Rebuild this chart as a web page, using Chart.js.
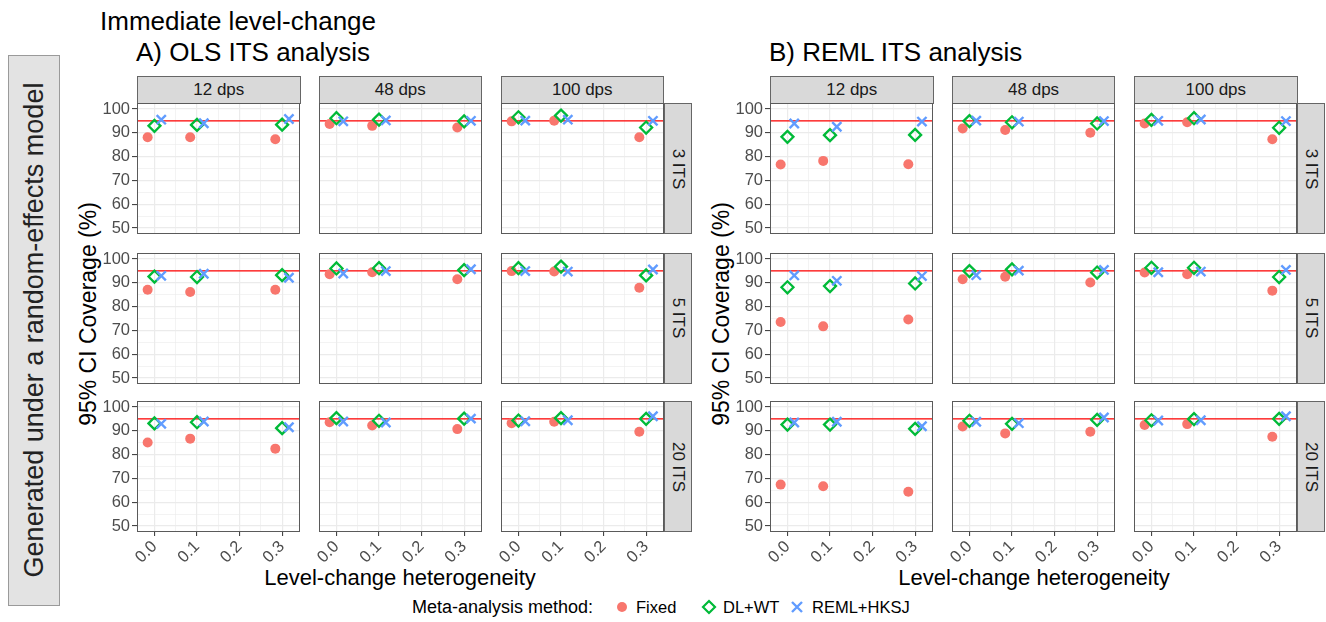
<!DOCTYPE html>
<html>
<head>
<meta charset="utf-8">
<script src="https://cdn.jsdelivr.net/npm/chart.js@4.4.1/dist/chart.umd.min.js"></script>
<style>
  body { margin: 0; background: #fff; font-family: "Liberation Sans", Arial, sans-serif; }
  #page { position: relative; width: 1326px; height: 622px; overflow: hidden; }
  .abs { position: absolute; }
  .txt { position: absolute; white-space: nowrap; color: #000; }
  .strip-top { position: absolute; background: #D9D9D9; border: 1px solid #666; box-sizing: border-box;
    font-size: 17px; color: #1A1A1A; display: flex; align-items: center; justify-content: center; }
  .strip-right { position: absolute; background: #D9D9D9; border: 1px solid #666; box-sizing: border-box; }
  .strip-right span { position: absolute; left: 50%; top: 50%; transform: translate(-50%, -50%) rotate(90deg);
    font-size: 17px; color: #1A1A1A; white-space: nowrap; }
  .rot { transform: translate(-50%, -50%) rotate(-90deg); }
  .leg { position: absolute; top: 607px; transform: translateY(-50%); white-space: nowrap; }
</style>
</head>
<body>
<div id="page">
  <div class="abs" style="left:8px; top:55px; width:52px; height:551px; background:#E3E3E3; border:1px solid #9a9a9a; box-sizing:border-box;"></div>
  <div class="txt rot" style="left:34px; top:330px; font-size:27px; color:#222;">Generated under a random-effects model</div>

  <div class="txt" style="left:100px; top:6px; font-size:26px;">Immediate level-change</div>
  <div class="txt" style="left:136px; top:37px; font-size:26px;">A) OLS ITS analysis</div>
  <div class="txt" style="left:769px; top:37px; font-size:26px;">B) REML ITS analysis</div>

  <div class="txt rot" style="left:88px; top:314px; font-size:23px;">95% CI Coverage (%)</div>
  <div class="txt rot" style="left:721px; top:314px; font-size:23px;">95% CI Coverage (%)</div>

  <div class="txt" style="left:400px; top:578px; font-size:22px; transform:translate(-50%,-50%);">Level-change heterogeneity</div>
  <div class="txt" style="left:1034px; top:578px; font-size:22px; transform:translate(-50%,-50%);">Level-change heterogeneity</div>

  <div class="leg" style="left:412px; font-size:18px;">Meta-analysis method:</div>
  <svg class="leg" style="left:613px;" width="18" height="18"><circle cx="9" cy="9" r="5" fill="#F8766D"/></svg>
  <div class="leg" style="left:636px; font-size:16.5px;">Fixed</div>
  <svg class="leg" style="left:700px;" width="18" height="18"><path d="M9 3 L15 9 L9 15 L3 9 Z" fill="none" stroke="#00BA38" stroke-width="2.2"/></svg>
  <div class="leg" style="left:723px; font-size:16.5px;">DL+WT</div>
  <svg class="leg" style="left:788px;" width="18" height="18"><path d="M4 4 L14 14 M14 4 L4 14" stroke="#619CFF" stroke-width="2.4"/></svg>
  <div class="leg" style="left:812px; font-size:16.5px;">REML+HKSJ</div>
</div>

<script>
// facets
const analyses = ['OLS', 'REML'];
const dpsLabels = ['12 dps', '48 dps', '100 dps'];
const itsLabels = ['3 ITS', '5 ITS', '20 ITS'];
const methods = ['Fixed', 'DL+WT', 'REML+HKSJ'];

// x categories and dodge offsets per method
const heterogeneity = [0, 0.1, 0.3];
const dodge = [-0.016, 0, 0.016];
const target = 95;

// axis ticks
const xTicks = [0, 0.05, 0.1, 0.15, 0.2, 0.25, 0.3];
const yTicks = [50, 55, 60, 65, 70, 75, 80, 85, 90, 95, 100];
const X_MIN = -0.041, X_MAX = 0.342;
const Y_MIN = 47.5, Y_MAX = 102.5;

// coverage values: [ITS row][dps column][heterogeneity]
const olsFixed = [
    [[88.1, 88.1, 87.3], [93.7, 92.9, 92.2], [94.8, 95.1, 88.1]],
    [[87.1, 86.1, 87.1], [93.6, 94.4, 91.5], [94.9, 94.7, 87.9]],
    [[85.1, 86.7, 82.5], [93.6, 92.2, 90.7], [93.2, 93.8, 89.6]]
];
const olsDL = [
    [[92.9, 93.3, 93.4], [96.1, 95.5, 94.8], [96.5, 97.2, 92.2]],
    [[92.6, 92.4, 93.2], [96.0, 96.1, 95.3], [96.1, 96.8, 93.1]],
    [[93.1, 93.6, 91.1], [95.3, 94.2, 95.1], [94.3, 95.3, 95.0]]
];
const olsHKSJ = [
    [[95.5, 94.0, 95.8], [94.8, 95.2, 95.0], [95.1, 95.5, 95.0]],
    [[92.9, 93.8, 92.1], [93.9, 94.9, 95.7], [94.9, 94.7, 95.6]],
    [[92.9, 93.9, 91.5], [93.9, 93.5, 95.1], [94.0, 94.4, 96.1]]
];
const remlFixed = [
    [[76.7, 78.2, 76.8], [91.8, 91.2, 90.0], [93.9, 94.4, 87.3]],
    [[73.5, 71.7, 74.6], [91.5, 92.5, 90.1], [94.3, 93.6, 86.7]],
    [[67.4, 66.7, 64.4], [91.8, 88.9, 89.6], [92.4, 92.8, 87.5]]
];
const remlDL = [
    [[88.3, 89.0, 89.1], [94.9, 94.4, 93.9], [95.4, 96.1, 92.1]],
    [[88.1, 88.6, 89.7], [94.9, 95.6, 94.3], [96.3, 96.3, 92.4]],
    [[92.6, 92.6, 90.8], [94.2, 92.9, 94.6], [94.4, 94.9, 95.0]]
];
const remlHKSJ = [
    [[93.9, 92.5, 94.7], [95.1, 94.7, 94.9], [95.0, 95.6, 94.9]],
    [[93.1, 90.8, 92.8], [93.2, 95.1, 95.4], [94.4, 94.7, 95.4]],
    [[93.5, 93.8, 91.9], [93.8, 93.2, 95.6], [94.3, 94.4, 96.1]]
];
const seriesByAnalysis = [[olsFixed, olsDL, olsHKSJ], [remlFixed, remlDL, remlHKSJ]];

// layout of the panels
const colX = [[137, 318.5, 500.5], [770, 951.8, 1134]];
const rowY = [103, 252.6, 401];
const PW = 163.6, PH = 131.3;
const LEFT = 60, BOTTOM = 50, PAD_TOP = 14, PAD_RIGHT = 16;
const tickFont = { family: '"Liberation Sans", Arial, sans-serif', size: 16.5 };

const page = document.getElementById('page');

const borderPlugin = {
    id: 'panelBorder',
    afterDraw(chart) {
        const a = chart.chartArea;
        const ctx = chart.ctx;
        ctx.save();
        ctx.strokeStyle = '#5a5a5a';
        ctx.lineWidth = 1;
        ctx.strokeRect(a.left + 0.5, a.top + 0.5, a.right - a.left - 1, a.bottom - a.top - 1);
        ctx.restore();
    }
};

function isMajorX(v) { return Math.round(v * 100) % 10 === 0; }
function isMajorY(v) { return Math.round(v) % 10 === 0; }

function makePanel(g, r, c) {
    const canvas = document.createElement('canvas');
    canvas.width = PW + LEFT + PAD_RIGHT;
    canvas.height = PH + BOTTOM + PAD_TOP;
    canvas.style.position = 'absolute';
    canvas.style.left = (colX[g][c] - LEFT) + 'px';
    canvas.style.top = (rowY[r] - PAD_TOP) + 'px';
    page.appendChild(canvas);

    const firstCol = c === 0;
    const lastRow = r === 2;
    const styles = [
        { pointStyle: 'circle', pointRadius: 5, backgroundColor: '#F8766D', borderColor: '#F8766D', borderWidth: 0 },
        { pointStyle: 'rectRot', pointRadius: 6, backgroundColor: 'rgba(0,0,0,0)', borderColor: '#00BA38', borderWidth: 2.3 },
        { pointStyle: 'crossRot', pointRadius: 6.5, backgroundColor: '#619CFF', borderColor: '#619CFF', borderWidth: 2.4 }
    ];

    const datasets = [{
        label: 'target',
        data: [{ x: X_MIN, y: target }, { x: X_MAX, y: target }],
        showLine: true,
        borderColor: '#FF0000',
        borderWidth: 1.2,
        pointRadius: 0,
        order: 4
    }];
    methods.forEach((m, k) => {
        const vals = seriesByAnalysis[g][k][r][c];
        datasets.push(Object.assign({
            label: m,
            data: heterogeneity.map((h, i) => ({ x: h + dodge[k], y: vals[i] })),
            order: 3 - k
        }, styles[k]));
    });

    new Chart(canvas.getContext('2d'), {
        type: 'scatter',
        data: { datasets },
        options: {
            responsive: false,
            animation: false,
            devicePixelRatio: 1,
            layout: { padding: { top: PAD_TOP, right: PAD_RIGHT, left: 0, bottom: 0 } },
            plugins: { legend: { display: false }, tooltip: { enabled: false } },
            scales: {
                x: {
                    type: 'linear',
                    min: X_MIN,
                    max: X_MAX,
                    afterBuildTicks: s => { s.ticks = xTicks.map(v => ({ value: v })); },
                    afterFit: s => { s.height = BOTTOM; },
                    border: { display: false },
                    grid: {
                        color: '#EBEBEB',
                        lineWidth: ctx => isMajorX(ctx.tick.value) ? 1.2 : 0.6,
                        drawTicks: lastRow,
                        tickLength: 4,
                        tickColor: ctx => isMajorX(ctx.tick.value) ? '#333' : 'rgba(0,0,0,0)',
                        tickWidth: 1
                    },
                    ticks: {
                        display: lastRow,
                        autoSkip: false,
                        minRotation: 45,
                        maxRotation: 45,
                        padding: 1,
                        color: '#4D4D4D',
                        font: tickFont,
                        callback: v => isMajorX(v) ? v.toFixed(1) : ''
                    }
                },
                y: {
                    type: 'linear',
                    min: Y_MIN,
                    max: Y_MAX,
                    afterBuildTicks: s => { s.ticks = yTicks.map(v => ({ value: v })); },
                    afterFit: s => { s.width = LEFT; },
                    border: { display: false },
                    grid: {
                        color: '#EBEBEB',
                        lineWidth: ctx => isMajorY(ctx.tick.value) ? 1.2 : 0.6,
                        drawTicks: firstCol,
                        tickLength: 5,
                        tickColor: ctx => isMajorY(ctx.tick.value) ? '#333' : 'rgba(0,0,0,0)',
                        tickWidth: 1
                    },
                    ticks: {
                        display: firstCol,
                        autoSkip: false,
                        padding: 2,
                        color: '#4D4D4D',
                        font: tickFont,
                        callback: v => isMajorY(v) ? String(v) : ''
                    }
                }
            }
        },
        plugins: [borderPlugin]
    });
}

function addStrips(g) {
    for (let c = 0; c < 3; c++) {
        const d = document.createElement('div');
        d.className = 'strip-top';
        d.style.left = colX[g][c] + 'px';
        d.style.top = (rowY[0] - 27.5) + 'px';
        d.style.width = PW + 'px';
        d.style.height = '28px';
        d.textContent = dpsLabels[c];
        page.appendChild(d);
    }
    for (let r = 0; r < 3; r++) {
        const d = document.createElement('div');
        d.className = 'strip-right';
        d.style.left = (colX[g][2] + PW - 0.5) + 'px';
        d.style.top = rowY[r] + 'px';
        d.style.width = '28px';
        d.style.height = PH + 'px';
        const s = document.createElement('span');
        s.textContent = itsLabels[r];
        d.appendChild(s);
        page.appendChild(d);
    }
}

analyses.forEach((a, g) => {
    addStrips(g);
    for (let r = 0; r < 3; r++) {
        for (let c = 0; c < 3; c++) makePanel(g, r, c);
    }
});
</script>
</body>
</html>
